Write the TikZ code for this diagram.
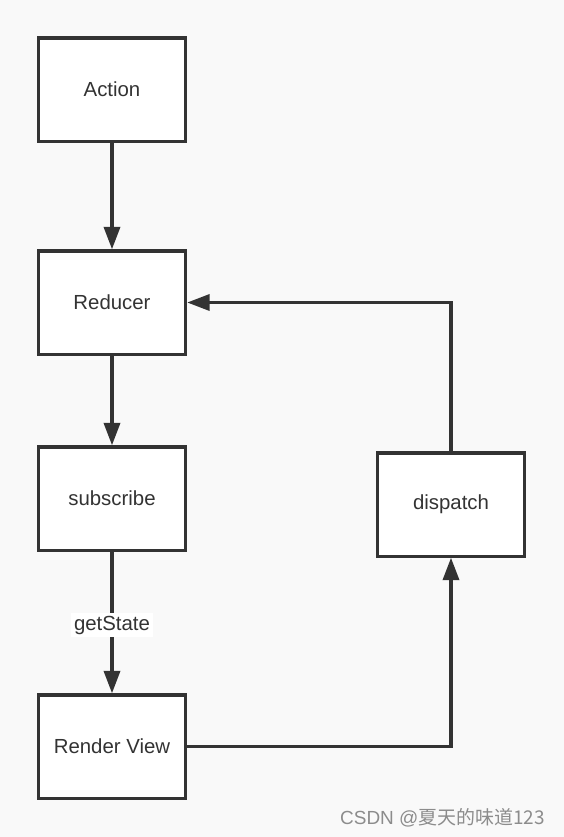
\documentclass[tikz,border=0pt]{standalone}
\usepackage{fontspec}
\setmainfont{Liberation Sans}
\newfontfamily\cjkfont{Noto Sans CJK SC}
\usetikzlibrary{arrows.meta}
\definecolor{ink}{HTML}{333333}
\definecolor{paper}{HTML}{F9F9F9}
\tikzset{
	x=0.025cm, y=-0.025cm,
	box/.style={draw=ink, line width=2.3pt, fill=white, text=ink, minimum width=3.68cm, minimum height=2.58cm, font=\fontsize{14.5}{17}\selectfont},
	flow/.style={draw=ink, line width=2.3pt, -{Triangle[length=16pt, width=11.5pt]}}
}

\begin{document}
\begin{tikzpicture}
\fill[paper] (0,0) rectangle (564,837);
\useasboundingbox (0,0) rectangle (564,837);
\node (action) [box] at (112,89.5) {Action};
\node (reducer) [box] at (112,302.5) {Reducer};
\node (subscribe) [box] at (112,498.5) {subscribe};
\node (render) [box] at (112,746.5) {Render View};
\node (dispatch) [box] at (451,504.5) {dispatch};
\draw[flow] (action) -- (reducer);
\draw[flow] (reducer) -- (subscribe);
\draw[flow] (subscribe) -- node[fill=white, text=ink, font=\fontsize{14.5}{17}\selectfont, inner sep=2pt, pos=0.52] {getState} (render);
\draw[flow] (render.east) -| (dispatch.south);
\draw[flow] (dispatch.north) |- (reducer.east);
\node (mark) [text=gray!90, font=\fontsize{13.5}{15}\selectfont, anchor=east] at (550,818) {CSDN @\cjkfont 夏天的味道123};
\end{tikzpicture}
\end{document}
